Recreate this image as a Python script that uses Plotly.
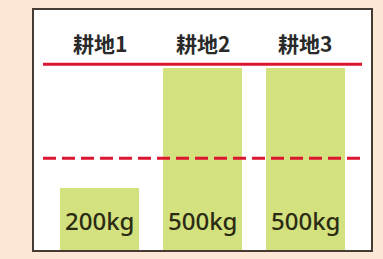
import plotly.graph_objects as go

# Data
categories = ["耕地1", "耕地2", "耕地3"]
yields_kg = [200, 500, 500]
value_labels = ["200kg", "500kg", "500kg"]
upper_level = 508   # solid red line
lower_level = 274   # dashed red line

x_pos = list(range(len(categories)))

fig = go.Figure()
fig.add_trace(go.Bar(
    x=x_pos, y=yields_kg, width=0.768,
    marker=dict(color="#D3E17F", line=dict(width=0)),
    hoverinfo="skip", showlegend=False,
))

# reference lines
fig.add_shape(type="line", xref="x", yref="y", x0=-0.55, x1=2.55,
              y0=upper_level, y1=upper_level,
              line=dict(color="#DC1530", width=3))
fig.add_shape(type="line", xref="x", yref="y", x0=-0.55, x1=2.55,
              y0=lower_level, y1=lower_level,
              line=dict(color="#DC1530", width=3, dash="13px,6px"))

# category labels (above the solid line)
for xi, name in zip(x_pos, categories):
    fig.add_annotation(x=xi, y=562, xref="x", yref="y", text=name,
                       showarrow=False, yanchor="middle",
                       font=dict(family="Noto Sans CJK JP", size=21, color="#2A2A2A",
                                 weight="bold"))

# value labels inside bars
for xi, lab in zip(x_pos, value_labels):
    fig.add_annotation(x=xi, y=120, xref="x", yref="y", text=lab,
                       showarrow=False, yanchor="middle",
                       font=dict(family="Noto Sans", size=24, color="#2B2B14",
                                 weight=500))

fig.update_xaxes(range=[-0.6375, 2.6375], showticklabels=False, showgrid=False,
                 zeroline=False, showline=True, mirror=True,
                 linecolor="#463C33", linewidth=2, ticks="")
fig.update_yaxes(range=[45.7, 643.2], showticklabels=False, showgrid=False,
                 zeroline=False, showline=True, mirror=True,
                 linecolor="#463C33", linewidth=2, ticks="")

fig.update_layout(
    width=383, height=259,
    margin=dict(l=34, r=12, t=8, b=9, pad=0),
    paper_bgcolor="#FCE8D5",
    plot_bgcolor="#FFFFFF",
    bargap=0,
)

fig.write_html(
    "out.html",
    config={"displayModeBar": False},
    post_script="document.body.style.margin='0';document.body.style.padding='0';"
                "document.body.style.background='#FCE8D5';",
)
